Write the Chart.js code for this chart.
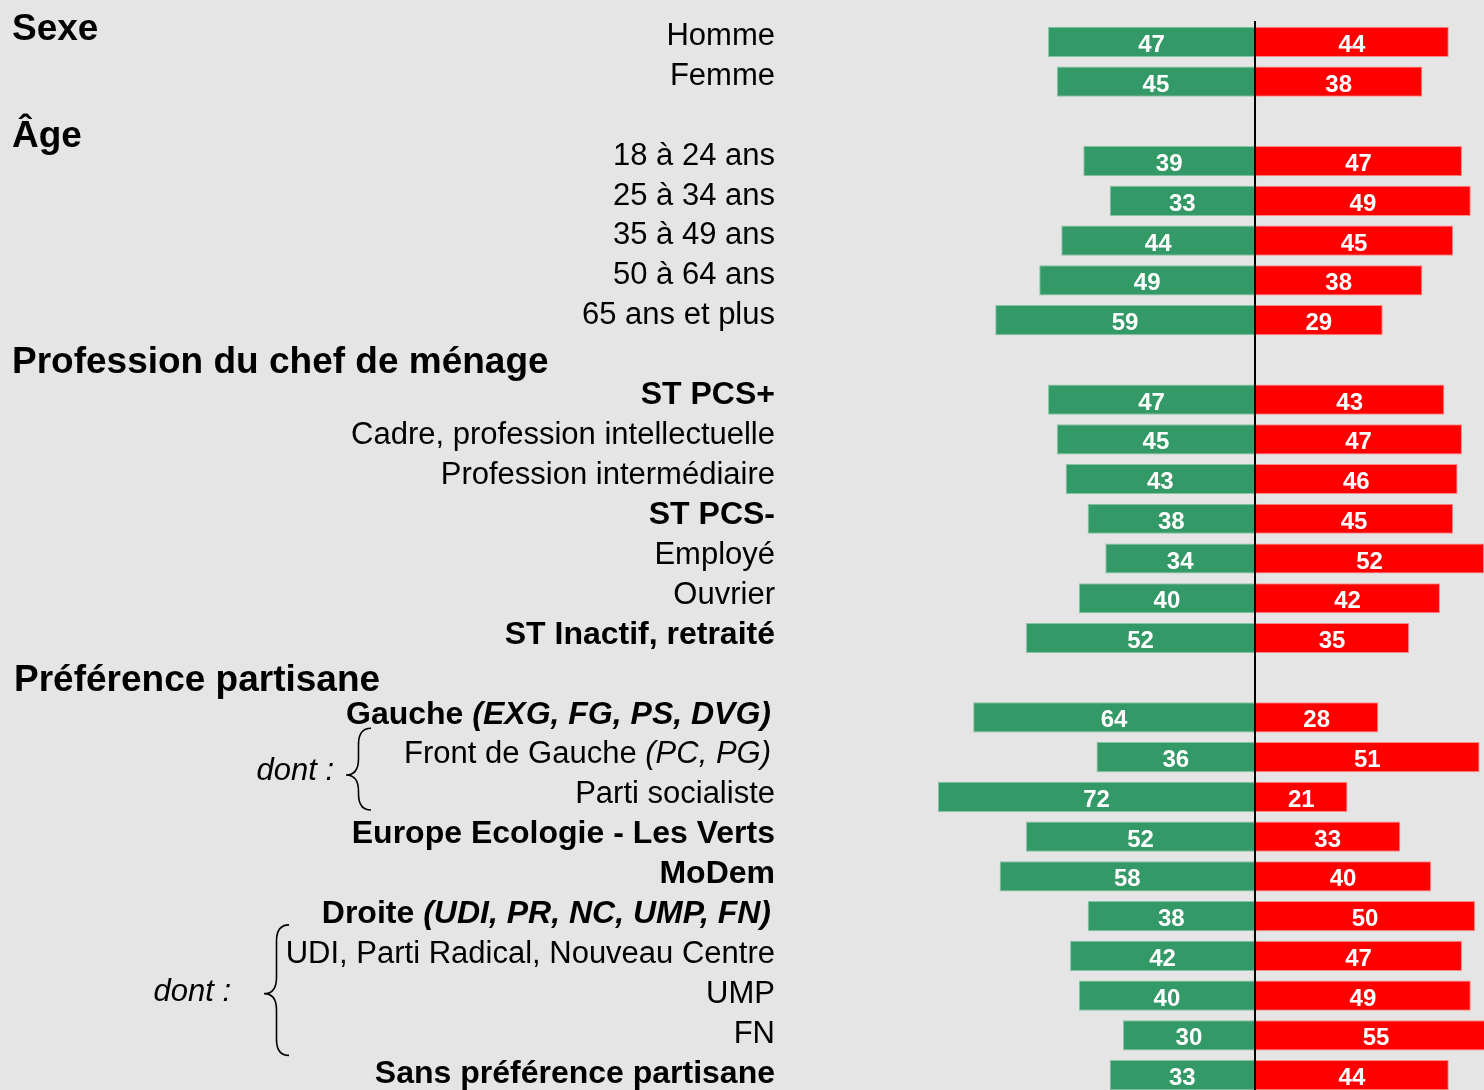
<!DOCTYPE html>
<html><head><meta charset="utf-8">
<script src="https://cdn.jsdelivr.net/npm/chart.js@4.4.0/dist/chart.umd.min.js"></script>
<style>
html,body{margin:0;padding:0;background:#e5e5e5;overflow:hidden;}
#wrap{position:relative;width:1484px;height:1090px;overflow:hidden;background:#e5e5e5;}
canvas{display:block;}
</style></head><body>
<div id="wrap"><canvas id="c" width="1484" height="1100"></canvas></div>
<script>
// ---- data ----
const categories = [
  'Homme', 'Femme', '',
  '18 à 24 ans', '25 à 34 ans', '35 à 49 ans', '50 à 64 ans', '65 ans et plus', '',
  'ST PCS+', 'Cadre, profession intellectuelle', 'Profession intermédiaire', 'ST PCS-', 'Employé', 'Ouvrier', 'ST Inactif, retraité', '',
  'Gauche (EXG, FG, PS, DVG)', 'Front de Gauche (PC, PG)', 'Parti socialiste', 'Europe Ecologie - Les Verts', 'MoDem',
  'Droite (UDI, PR, NC, UMP, FN)', 'UDI, Parti Radical, Nouveau Centre', 'UMP', 'FN', 'Sans préférence partisane'
];
const greenValues = [47, 45, null, 39, 33, 44, 49, 59, null, 47, 45, 43, 38, 34, 40, 52, null, 64, 36, 72, 52, 58, 38, 42, 40, 30, 33];
const redValues   = [44, 38, null, 47, 49, 45, 38, 29, null, 43, 47, 46, 45, 52, 42, 35, null, 28, 51, 21, 33, 40, 50, 47, 49, 55, 44];
const boldLabels = ['ST PCS+', 'ST PCS-', 'ST Inactif, retraité', 'Gauche (EXG, FG, PS, DVG)', 'Europe Ecologie - Les Verts', 'MoDem', 'Droite (UDI, PR, NC, UMP, FN)', 'Sans préférence partisane'];
const headers = ['Sexe', 'Âge', 'Profession du chef de ménage', 'Préférence partisane'];
const headerRows = [0, 2, 8, 16];
const dontLabel = 'dont :';
const dontGroups = [[18, 19], [23, 25]];

// ---- styling ----
const FONT = '"Liberation Sans", Arial, Helvetica, sans-serif';
const GREEN = '#339966';
const RED = '#ff0000';

function drawLabel(ctx, text, xRight, yBase, bold) {
  const w = bold ? 'bold ' : '';
  const size = bold ? 32 : 31;
  const idx = text.indexOf('(');
  const parts = idx > 0 ? [[text.slice(0, idx), w], [text.slice(idx), 'italic ' + w]] : [[text, w]];
  let xr = xRight - (idx > 0 ? 4 : 0);
  ctx.textAlign = 'right';
  for (let k = parts.length - 1; k >= 0; k--) {
    ctx.font = parts[k][1] + size + 'px ' + FONT;
    ctx.fillText(parts[k][0], xr, yBase);
    xr -= ctx.measureText(parts[k][0]).width;
  }
}

function drawBrace(ctx, tipX, armX, top, bottom, midY) {
  const mx = (tipX + armX) / 2;
  const r = armX - mx;
  ctx.beginPath();
  ctx.moveTo(armX, top);
  ctx.quadraticCurveTo(mx, top, mx, top + r * 1.3);
  ctx.lineTo(mx, midY - r * 1.3);
  ctx.quadraticCurveTo(mx, midY, tipX, midY);
  ctx.quadraticCurveTo(mx, midY, mx, midY + r * 1.3);
  ctx.lineTo(mx, bottom - r * 1.3);
  ctx.quadraticCurveTo(mx, bottom, armX, bottom);
  ctx.stroke();
}

const overlay = {
  id: 'overlay',
  afterDatasetsDraw(chart) {
    const ctx = chart.ctx, xs = chart.scales.x, ys = chart.scales.y, area = chart.chartArea;
    ctx.save();
    // centre line
    const x0 = xs.getPixelForValue(0);
    ctx.strokeStyle = '#000'; ctx.lineWidth = 2;
    ctx.beginPath(); ctx.moveTo(x0, area.top - 1); ctx.lineTo(x0, area.bottom); ctx.stroke();
    // value labels
    ctx.font = 'bold 24px ' + FONT; ctx.fillStyle = '#fff'; ctx.textAlign = 'center'; ctx.textBaseline = 'alphabetic';
    chart.data.datasets.forEach((ds, di) => {
      chart.getDatasetMeta(di).data.forEach((el, i) => {
        const v = ds.data[i];
        if (v == null) return;
        ctx.fillText(String(Math.abs(v)), (el.x + el.base) / 2, el.y + 10);
      });
    });
    // category labels
    ctx.fillStyle = '#000';
    categories.forEach((c, i) => {
      if (!c) return;
      drawLabel(ctx, c, 775, ys.getPixelForValue(i) + 3 + 0.18 * i, boldLabels.includes(c));
    });
    // headers
    const hOff = [-2, 26, 13, 13];
    const hX = [12, 12, 12, 14];
    ctx.textAlign = 'left';
    ctx.font = 'bold 37px ' + FONT;
    headers.forEach((h, k) => {
      ctx.fillText(h, hX[k], ys.getPixelForValue(headerRows[k]) + hOff[k]);
    });
    // "dont :" and braces
    ctx.font = 'italic 31px ' + FONT;
    ctx.textAlign = 'right';
    ctx.strokeStyle = '#000'; ctx.lineWidth = 1.6;
    const dontX = [334, 231], tipX = [346, 264], armX = [371, 289];
    const topOff = [-29, -31], botOff = [13, 20], dontOff = [3, 5];
    dontGroups.forEach((g, k) => {
      const yA = ys.getPixelForValue(g[0]), yB = ys.getPixelForValue(g[1]);
      const mid = (yA + yB) / 2;
      ctx.fillText(dontLabel, dontX[k], mid + dontOff[k]);
      drawBrace(ctx, tipX[k], armX[k], yA + topOff[k], yB + botOff[k], mid - 2);
    });
    ctx.restore();
  }
};

new Chart(document.getElementById('c'), {
  type: 'bar',
  data: {
    labels: categories,
    datasets: [
      { data: greenValues.map(v => v == null ? null : -v), backgroundColor: GREEN, borderColor: '#86c4a4', borderWidth: 1 },
      { data: redValues, backgroundColor: RED, borderColor: '#ff8a8a', borderWidth: 1 }
    ]
  },
  options: {
    indexAxis: 'y',
    responsive: false,
    animation: false,
    devicePixelRatio: 1,
    barPercentage: 0.76,
    categoryPercentage: 1,
    layout: { padding: { top: 22, bottom: 5, left: 0, right: 0 } },
    plugins: { legend: { display: false }, tooltip: { enabled: false } },
    scales: {
      x: { stacked: true, min: -285, max: 52, display: false },
      y: { stacked: true, display: false }
    }
  },
  plugins: [overlay]
});
</script>
</body></html>
